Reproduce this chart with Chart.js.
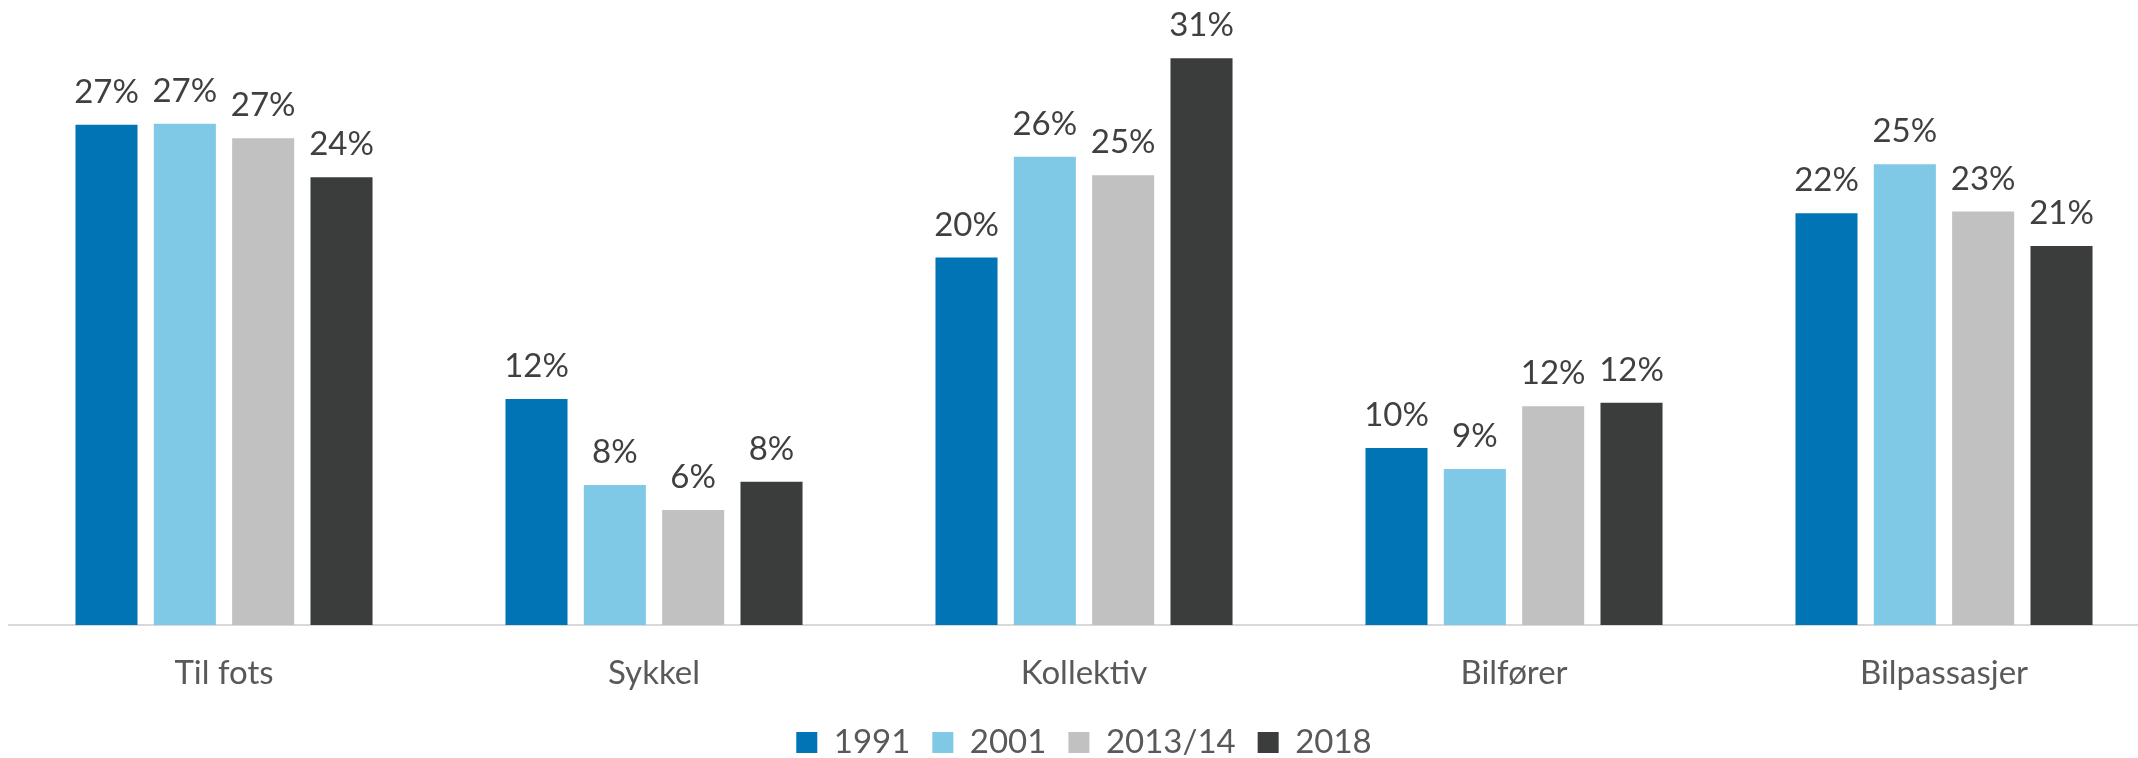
<!DOCTYPE html>
<html><head><meta charset="utf-8">
<script src="https://cdn.jsdelivr.net/npm/chart.js@4.4.0/dist/chart.umd.min.js"></script>
<style>
html,body{margin:0;padding:0;overflow:hidden;background:#fff;}
#wrap{position:absolute;left:0;top:0;width:2168px;height:769px;}
</style></head><body>
<div id="wrap"><canvas id="c" width="2168" height="769"></canvas></div>
<script>
const categories = ["Til fots", "Sykkel", "Kollektiv", "Bilfører", "Bilpassasjer"];
const seriesNames = ["1991", "2001", "2013/14", "2018"];
const v1991 = [27.30, 12.34, 20.05, 9.66, 22.47];
const v2001 = [27.36, 7.64, 25.55, 8.52, 25.15];
const v2013 = [26.57, 6.28, 24.55, 11.94, 22.56];
const v2018 = [24.44, 7.82, 30.93, 12.13, 20.69];
const seriesValues = [v1991, v2001, v2013, v2018];
const colors = ["#0174B5", "#7FC8E6", "#C0C1C0", "#3B3D3C"];

const FONT = "Lato";

const labelPlugin = {
  id: 'vals',
  afterDatasetsDraw(chart) {
    const ctx = chart.ctx;
    ctx.save();
    ctx.font = '33px ' + FONT;
    ctx.fillStyle = '#404040';
    ctx.textAlign = 'center';
    ctx.textBaseline = 'alphabetic';
    chart.data.datasets.forEach((ds, i) => {
      chart.getDatasetMeta(i).data.forEach((bar, j) => {
        ctx.fillText(Math.round(ds.data[j]) + '%', bar.x, bar.y - 22);
      });
    });
    ctx.restore();
  }
};

new Chart(document.getElementById('c'), {
  type: 'bar',
  data: {
    labels: categories,
    datasets: seriesNames.map((n, i) => ({
      label: n,
      data: seriesValues[i],
      backgroundColor: colors[i],
      borderWidth: 0,
      categoryPercentage: 0.7287,
      barPercentage: 0.792
    }))
  },
  options: {
    responsive: false,
    animation: false,
    devicePixelRatio: 1,
    layout: { padding: { left: 9, right: 9, top: 2, bottom: 0 } },
    plugins: {
      legend: {
        position: 'bottom',
        labels: {
          boxWidth: 21, boxHeight: 21, padding: 22,
          color: '#595959',
          font: { family: FONT, size: 33, lineHeight: 1.2 }
        }
      },
      tooltip: { enabled: false }
    },
    scales: {
      x: {
        grid: { display: false, drawTicks: false },
        border: { display: true, color: '#D9D9D9', width: 2 },
        ticks: { color: '#595959', padding: 29, font: { family: FONT, size: 33, lineHeight: 1.2 } },
        afterFit: (scale) => { scale.height = 79; }
      },
      y: { display: false, min: 0, max: 34 }
    }
  },
  plugins: [labelPlugin]
});
</script>
</body></html>
